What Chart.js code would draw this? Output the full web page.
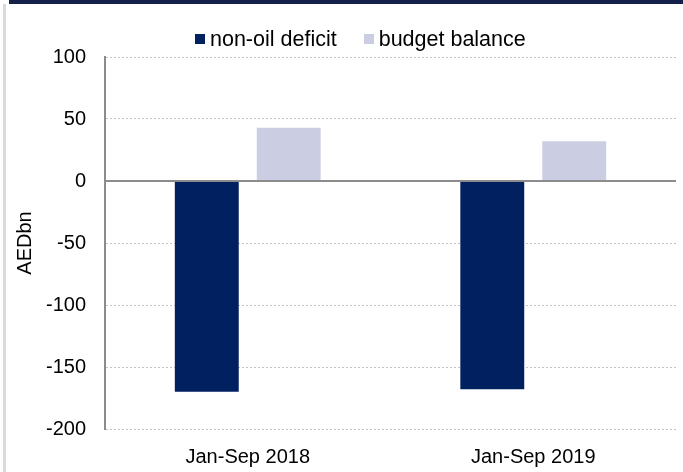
<!DOCTYPE html>
<html>
<head>
<meta charset="utf-8">
<script src="https://cdn.jsdelivr.net/npm/chart.js@4.4.1/dist/chart.umd.min.js"></script>
<style>
  html, body { margin: 0; padding: 0; background: #ffffff; }
  #wrap { position: relative; width: 683px; height: 472px; overflow: hidden; font-family: "Liberation Sans", Arial, sans-serif; }
  #topband { position: absolute; left: 9px; top: 0; width: 674px; height: 4px; background: #15204a; }
  #leftborder { position: absolute; left: 3px; top: 4px; width: 3px; height: 468px; background: #dadada; }
  #legend { position: absolute; left: 195px; top: 27px; height: 24px; display: flex; align-items: center; font-size: 21.5px; color: #000; white-space: nowrap; }
  #legend .item { display: flex; align-items: center; margin-right: 27px; }
  #legend .box { width: 10px; height: 10px; margin-right: 5px; }
  canvas { position: absolute; left: 0; top: 0; }
</style>
</head>
<body>
<div id="wrap">
  <canvas id="c" width="683" height="472"></canvas>
  <div id="topband"></div>
  <div id="leftborder"></div>
  <div id="legend"></div>
</div>
<script>
// ---- data ----
const categories = ["Jan-Sep 2018", "Jan-Sep 2019"];
const nonOilDeficit = [-170, -168];
const budgetBalance = [43, 32];
const seriesNames = ["non-oil deficit", "budget balance"];
const yTicks = { min: -200, max: 100, step: 50 };
const axisTitle = "AEDbn";

const colors = { navy: "#002060", lilac: "#cbcee3", axis: "#8c8c8c", grid: "#c4c4c4" };

Chart.defaults.font.family = '"Liberation Sans", Arial, sans-serif';
Chart.defaults.font.size = 20;
Chart.defaults.color = "#000000";

const htmlLegend = {
  id: "htmlLegend",
  afterUpdate(chart) {
    const el = document.getElementById("legend");
    el.innerHTML = "";
    const items = chart.options.plugins.legend.labels.generateLabels(chart);
    items.forEach(it => {
      const d = document.createElement("div");
      d.className = "item";
      const b = document.createElement("span");
      b.className = "box";
      b.style.background = it.fillStyle;
      const t = document.createElement("span");
      t.textContent = it.text;
      d.appendChild(b); d.appendChild(t);
      el.appendChild(d);
    });
  }
};

new Chart(document.getElementById("c"), {
  type: "bar",
  data: {
    labels: categories,
    datasets: [
      { label: seriesNames[0], data: nonOilDeficit, backgroundColor: colors.navy,
        categoryPercentage: 0.574, barPercentage: 0.78 },
      { label: seriesNames[1], data: budgetBalance, backgroundColor: colors.lilac,
        categoryPercentage: 0.574, barPercentage: 0.78 }
    ]
  },
  options: {
    responsive: false,
    animation: false,
    layout: { padding: { top: 57, right: 7, bottom: 0, left: 0 } },
    plugins: {
      legend: { display: false },
      tooltip: { enabled: false }
    },
    scales: {
      x: {
        grid: { display: false },
        border: { display: false },
        ticks: { padding: 8, color: "#000" },
        afterFit(s) { s.height = 43; }
      },
      y: {
        min: yTicks.min, max: yTicks.max,
        ticks: { stepSize: yTicks.step, padding: 19, color: "#000" },
        grid: {
          drawTicks: false,
          color: ctx => ctx.tick && ctx.tick.value === 0 ? colors.axis : colors.grid,
          lineWidth: ctx => ctx.tick && ctx.tick.value === 0 ? 2 : 1
        },
        border: {
          display: true, color: colors.axis, width: 2,
          dash: ctx => ctx.tick && ctx.tick.value === 0 ? [] : [2, 2]
        },
        title: { display: true, text: axisTitle, padding: { top: 13, bottom: 0 }, color: "#000" },
        afterFit(s) { s.width = 105; }
      }
    }
  },
  plugins: [htmlLegend]
});
</script>
</body>
</html>
